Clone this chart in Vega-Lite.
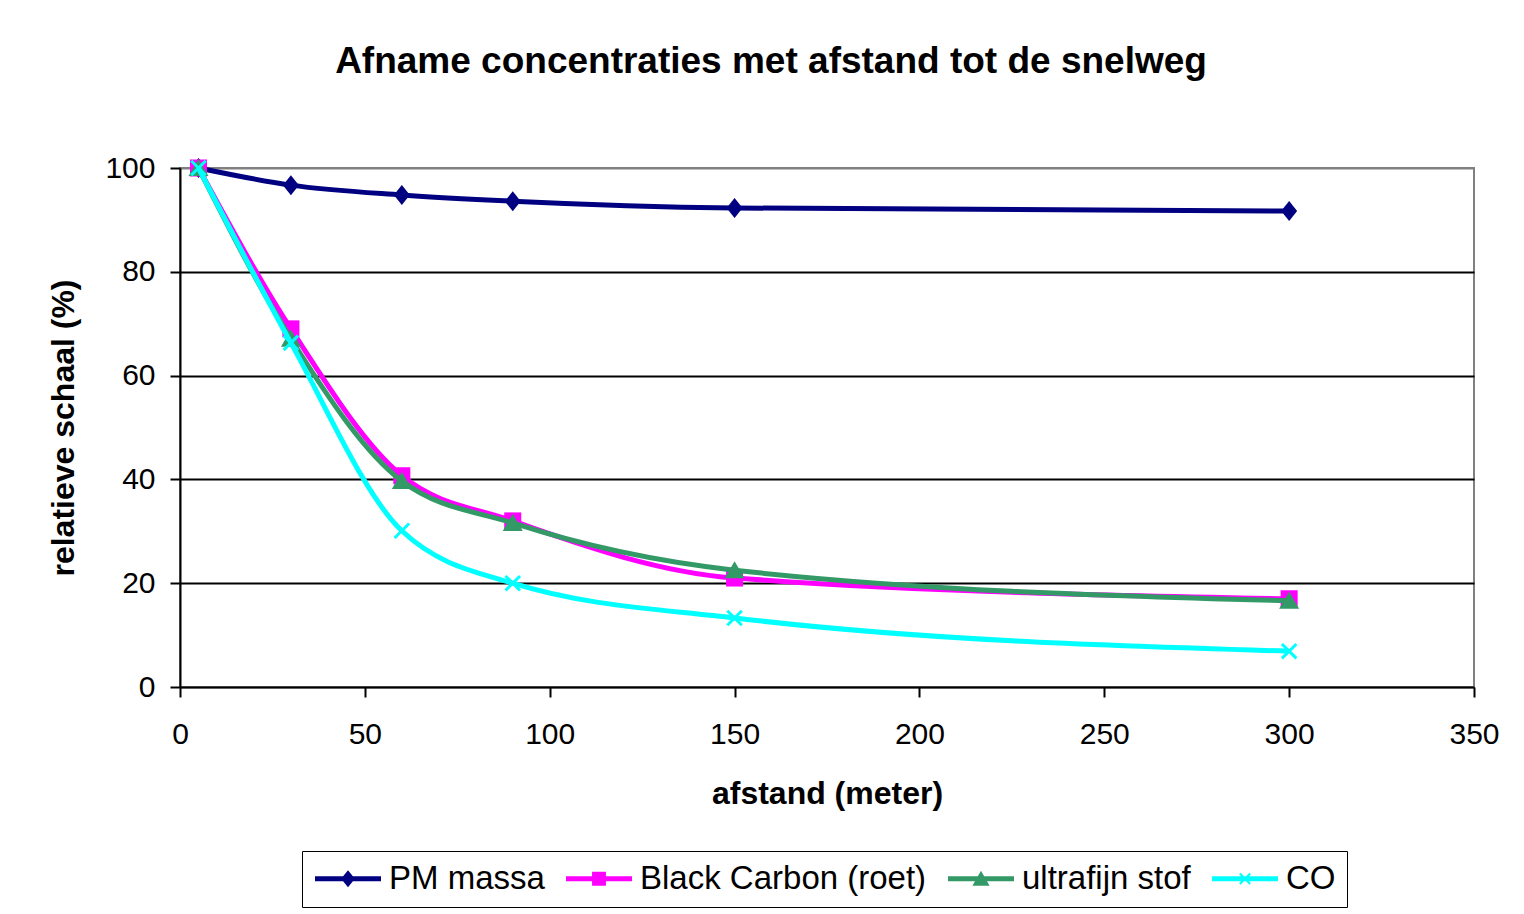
{
  "$schema": "https://vega.github.io/schema/vega-lite/v6.json",
  "autosize": {"type": "none"},
  "width": 1294,
  "height": 519,
  "padding": {"left": 180, "top": 168, "right": 50, "bottom": 227},
  "background": "white",
  "title": {
    "text": "Afname concentraties met afstand tot de snelweg",
    "font": "Liberation Sans",
    "fontSize": 37,
    "fontWeight": "bold",
    "color": "black",
    "anchor": "middle",
    "baseline": "alphabetic",
    "offset": 43,
    "dx": -56
  },
  "config": {
    "view": {"stroke": "#808080", "strokeWidth": 2},
    "axis": {
      "labelFont": "Liberation Sans",
      "labelFontSize": 30,
      "labelColor": "black",
      "titleFont": "Liberation Sans",
      "titleFontSize": 32,
      "titleFontWeight": "bold",
      "titleColor": "black",
      "domainColor": "black",
      "domainWidth": 2,
      "tickColor": "black",
      "tickWidth": 2,
      "tickSize": 10,
      "gridWidth": 2
    },
    "legend": {
      "labelFont": "Liberation Sans",
      "labelFontSize": 33,
      "labelColor": "black",
      "labelLimit": 500
    }
  },
  "data": {
    "values": [
      {"series": "PM massa", "afstand": 5, "waarde": 100},
      {"series": "PM massa", "afstand": 30, "waarde": 96.7},
      {"series": "PM massa", "afstand": 60, "waarde": 94.8},
      {"series": "PM massa", "afstand": 90, "waarde": 93.6},
      {"series": "PM massa", "afstand": 150, "waarde": 92.3},
      {"series": "PM massa", "afstand": 300, "waarde": 91.7},
      {"series": "Black Carbon (roet)", "afstand": 5, "waarde": 100},
      {"series": "Black Carbon (roet)", "afstand": 30, "waarde": 69.0},
      {"series": "Black Carbon (roet)", "afstand": 60, "waarde": 40.7},
      {"series": "Black Carbon (roet)", "afstand": 90, "waarde": 32.0},
      {"series": "Black Carbon (roet)", "afstand": 150, "waarde": 21.0},
      {"series": "Black Carbon (roet)", "afstand": 300, "waarde": 17.0},
      {"series": "ultrafijn stof", "afstand": 5, "waarde": 100},
      {"series": "ultrafijn stof", "afstand": 30, "waarde": 67.1},
      {"series": "ultrafijn stof", "afstand": 60, "waarde": 39.7},
      {"series": "ultrafijn stof", "afstand": 90, "waarde": 31.6},
      {"series": "ultrafijn stof", "afstand": 150, "waarde": 22.5},
      {"series": "ultrafijn stof", "afstand": 300, "waarde": 16.6},
      {"series": "CO", "afstand": 5, "waarde": 100},
      {"series": "CO", "afstand": 30, "waarde": 66.3},
      {"series": "CO", "afstand": 60, "waarde": 30.1},
      {"series": "CO", "afstand": 90, "waarde": 20.0},
      {"series": "CO", "afstand": 150, "waarde": 13.3},
      {"series": "CO", "afstand": 300, "waarde": 6.9}
    ]
  },
  "encoding": {
    "x": {
      "field": "afstand",
      "type": "quantitative",
      "scale": {"domain": [0, 350], "nice": false},
      "axis": {
        "title": "afstand (meter)",
        "values": [0, 50, 100, 150, 200, 250, 300, 350],
        "grid": false,
        "labelPadding": 22,
        "titlePadding": 29,
        "labelFlush": false
      }
    },
    "y": {
      "field": "waarde",
      "type": "quantitative",
      "scale": {"domain": [0, 100], "nice": false},
      "axis": {
        "title": "relatieve schaal (%)",
        "values": [0, 20, 40, 60, 80, 100],
        "grid": true,
        "gridColor": {"condition": {"test": "datum.value == 100 || datum.value == 0", "value": "#808080"}, "value": "black"},
        "labelPadding": 15,
        "titlePadding": 24
      }
    }
  },
  "layer": [
    {
      "transform": [{"filter": "datum.series == 'PM massa'"}],
      "mark": {"type": "line", "strokeWidth": 5, "interpolate": "monotone", "color": "#000080"}
    },
    {
      "transform": [{"filter": "datum.series == 'PM massa'"}],
      "mark": {"type": "point", "filled": true, "color": "#000080", "opacity": 1, "size": 400, "shape": "M0,-1L0.8,0L0,1L-0.8,0Z"}
    },
    {
      "transform": [{"filter": "datum.series == 'Black Carbon (roet)'"}],
      "mark": {"type": "line", "strokeWidth": 5, "interpolate": "monotone", "color": "#FF00FF"}
    },
    {
      "transform": [{"filter": "datum.series == 'Black Carbon (roet)'"}],
      "mark": {"type": "point", "filled": true, "color": "#FF00FF", "opacity": 1, "size": 290, "shape": "square"}
    },
    {
      "transform": [{"filter": "datum.series == 'ultrafijn stof'"}],
      "mark": {"type": "line", "strokeWidth": 5, "interpolate": "monotone", "color": "#339966"}
    },
    {
      "transform": [{"filter": "datum.series == 'ultrafijn stof'"}],
      "mark": {"type": "point", "filled": true, "color": "#339966", "opacity": 1, "size": 400, "shape": "M0,-0.9L1,0.8L-1,0.8Z"}
    },
    {
      "transform": [{"filter": "datum.series == 'CO'"}],
      "mark": {"type": "line", "strokeWidth": 5, "interpolate": "monotone", "color": "#00FFFF"}
    },
    {
      "transform": [{"filter": "datum.series == 'CO'"}],
      "mark": {"type": "point", "filled": false, "color": "#00FFFF", "opacity": 1, "size": 210, "strokeWidth": 3, "shape": "M-1,-1L1,1M1,-1L-1,1"}
    },
    {
      "transform": [{"filter": "datum.series == 'geen'"}],
      "mark": {"type": "point", "filled": true, "opacity": 1},
      "encoding": {
        "color": {
          "field": "series",
          "type": "nominal",
          "sort": null,
          "scale": {
            "domain": ["PM massa", "Black Carbon (roet)", "ultrafijn stof", "CO"],
            "range": ["#000080", "#FF00FF", "#339966", "#00FFFF"]
          },
          "legend": {
            "title": null,
            "orient": "none",
            "legendX": 122,
            "legendY": 683,
            "direction": "horizontal",
            "strokeColor": "black",
            "fillColor": "white",
            "padding": 11,
            "symbolSize": 1089,
            "symbolOffset": 18.5,
            "symbolStrokeWidth": 0,
            "symbolOpacity": 1,
            "labelOffset": 24.5,
            "columnPadding": 19
          }
        },
        "shape": {
          "field": "series",
          "type": "nominal",
          "sort": null,
          "scale": {
            "domain": ["PM massa", "Black Carbon (roet)", "ultrafijn stof", "CO"],
            "range": [
              "M-2,-0.15H2V0.15H-2ZM0,-0.52L0.42,0L0,0.52L-0.42,0Z",
              "M-2,-0.15H2V0.15H-2ZM-0.42,-0.42H0.42V0.42H-0.42Z",
              "M-2,-0.15H2V0.15H-2ZM0,-0.48L0.52,0.42H-0.52Z",
              "M-2,-0.15H2V0.15H-2ZM-0.27,-0.36L0.36,0.27L0.27,0.36L-0.36,-0.27ZM0.36,-0.27L-0.27,0.36L-0.36,0.27L0.27,-0.36Z"
            ]
          }
        }
      }
    }
  ]
}
